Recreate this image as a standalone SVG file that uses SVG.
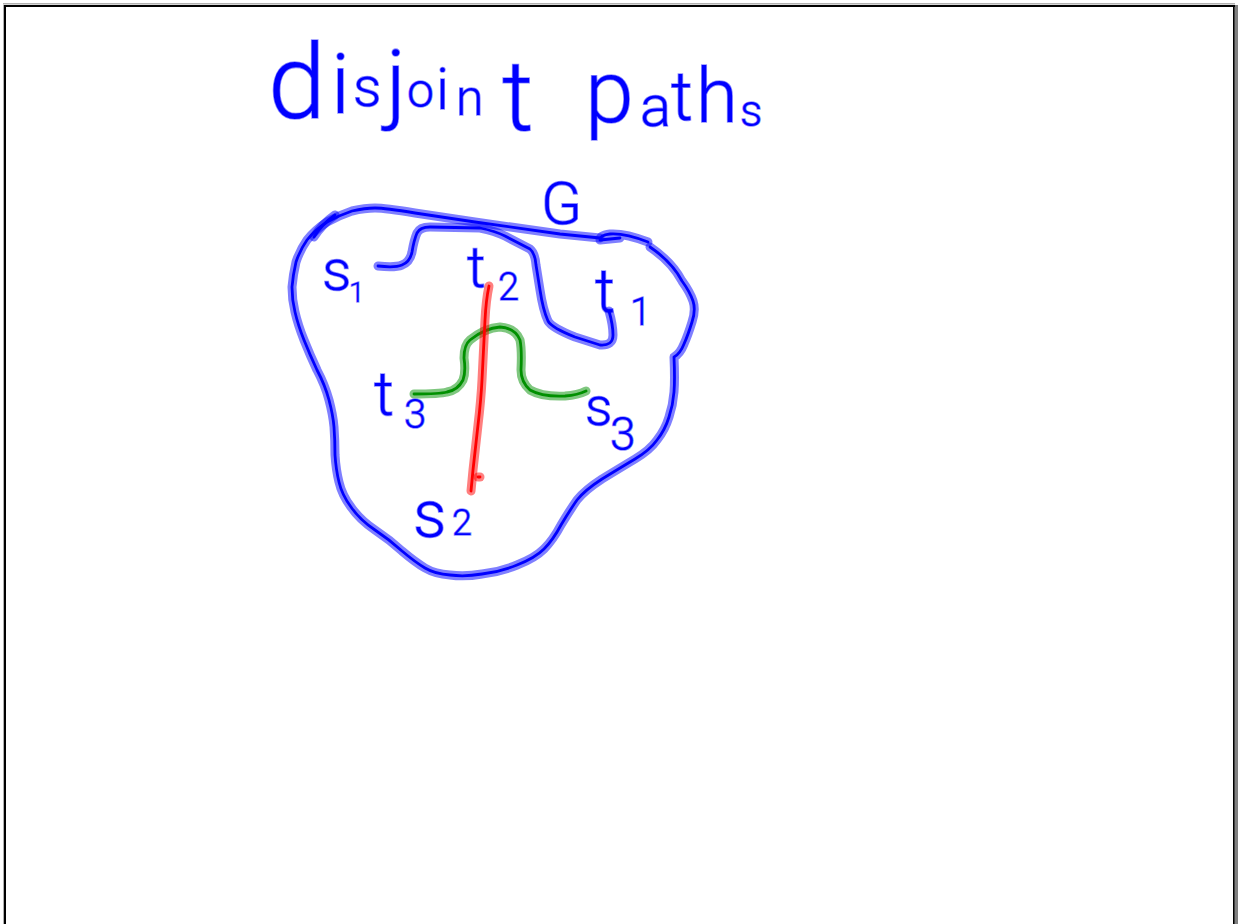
<svg xmlns="http://www.w3.org/2000/svg" width="1238" height="924" viewBox="0 0 1238 924">
<style>
.halo{fill:none;stroke-width:9;stroke-linecap:round;stroke-linejoin:round;stroke-opacity:.5}
.core{fill:none;stroke-width:2.8;stroke-linecap:round;stroke-linejoin:round}
.hand{font-family:Roboto,"Liberation Sans",sans-serif;font-weight:300;fill:#0000ff;stroke:#0000ff;stroke-opacity:.45;stroke-width:1.6}
.blue{stroke:#0000ff}.green{stroke:#009000}.red{stroke:#ff0000}
</style>
<defs>
<path id="outline" d="M600 238L560 234L475 222L415 213Q385 208 375 208Q365 208 352 211Q340 215 327 222Q315 230 307 240Q300 250 296 262Q293 275 292 287Q292 300 295 312Q298 325 304 340Q310 355 317 370Q325 385 329 400Q333 415 334 427Q335 440 335 455Q336 470 339 482Q342 495 351 507Q360 520 375 530Q390 540 402 551Q415 562 425 568Q435 574 450 575Q465 577 482 574Q500 572 517 565Q535 558 544 549Q553 540 561 525Q570 510 577 500Q585 490 602 479Q620 468 635 459Q650 450 657 440Q665 430 669 417Q673 405 674 392Q675 380 674 357Q680 354 684 344Q688 335 692 322Q696 310 693 301Q690 292 682 281Q672 262 650 247"/>
<path id="cap1" d="M314 237Q322 224 335 215"/>
<path id="cap2" d="M648 242Q625 233 610 234Q600 235 600 240L620 238"/>
<path id="p1" d="M378 266Q395 268 402 265Q410 262 412 252Q414 240 417 233Q420 227 430 227L480 228Q495 231 505 236L530 249Q535 253 536 265L540 290Q543 310 548 321Q552 328 575 337L600 345Q613 346 613 335Q613 325 609 311"/>
<path id="p3" d="M414 394Q440 394 447 392Q458 390 463 380Q466 372 464 358Q464 345 470 340Q485 328 500 327Q515 328 520 340Q522 350 521 370Q521 382 530 390Q542 397 565 396Q578 395 586 391"/>
<path id="p2" d="M489 286Q486 300 485 320L482 380Q481 400 478 425L473 470L471 491"/>
<path id="dot" d="M478 477L480 477"/>
</defs>
<g id="frame">
<rect x="1234" y="5" width="4" height="919" fill="#808080"/>
<rect x="3" y="3" width="1232" height="1.5" fill="#b0b0b0"/>
<rect x="3" y="5" width="1232" height="2" fill="#000"/>
<rect x="3" y="5" width="1" height="919" fill="#b0b0b0"/>
<rect x="4" y="5" width="2" height="919" fill="#000"/>
<rect x="1233" y="5" width="1.5" height="919" fill="#000"/>
</g>
<text id="title" class="hand"><tspan x="268" y="118" font-size="104">d</tspan><tspan x="331" y="113" font-size="84">i</tspan><tspan x="353" y="106" font-size="56">s</tspan><tspan x="386" y="112" font-size="88">j</tspan><tspan x="407" y="107" font-size="48">o</tspan><tspan x="436" y="109" font-size="58">i</tspan><tspan x="456" y="115" font-size="50">n</tspan><tspan x="502" y="130" font-size="98">t</tspan><tspan x="560" y="120" font-size="60"> </tspan><tspan x="585" y="122" font-size="88">p</tspan><tspan x="640" y="126" font-size="58">a</tspan><tspan x="671" y="120" font-size="68">t</tspan><tspan x="696" y="122" font-size="76">h</tspan><tspan x="740" y="126" font-size="44">s</tspan></text>
<g id="connectors">
<use href="#p1" class="halo blue"/><use href="#p1" class="core blue"/>
<use href="#p3" class="halo green"/><use href="#p3" class="core green"/>
<use href="#p2" class="halo red"/><use href="#p2" class="core red"/>
<use href="#dot" class="halo red"/><use href="#dot" class="core red"/>
</g>
<g id="node-G">
<use href="#outline" class="halo blue"/><use href="#outline" class="core blue"/>
<use href="#cap1" class="halo blue"/><use href="#cap1" class="core blue"/>
<use href="#cap2" class="halo blue"/><use href="#cap2" class="core blue"/>
<text class="hand" x="541" y="224" font-size="60">G</text>
</g>
<g id="node-s1"><text class="hand"><tspan x="322" y="290" font-size="58">s</tspan><tspan x="349" y="302" font-size="28">1</tspan></text></g>
<g id="node-t2"><text class="hand"><tspan x="467" y="287" font-size="58">t</tspan><tspan x="498" y="300" font-size="38">2</tspan></text></g>
<g id="node-t1"><text class="hand"><tspan x="595" y="312" font-size="62">t</tspan><tspan x="630" y="325" font-size="38">1</tspan></text></g>
<g id="node-t3"><text class="hand"><tspan x="374" y="415" font-size="62">t</tspan><tspan x="404" y="428" font-size="40">3</tspan></text></g>
<g id="node-s3"><text class="hand"><tspan x="585" y="425" font-size="54">s</tspan><tspan x="610" y="450" font-size="46">3</tspan></text></g>
<g id="node-s2"><text class="hand"><tspan x="413" y="537" font-size="66">s</tspan><tspan x="452" y="535" font-size="36">2</tspan></text></g>
</svg>
